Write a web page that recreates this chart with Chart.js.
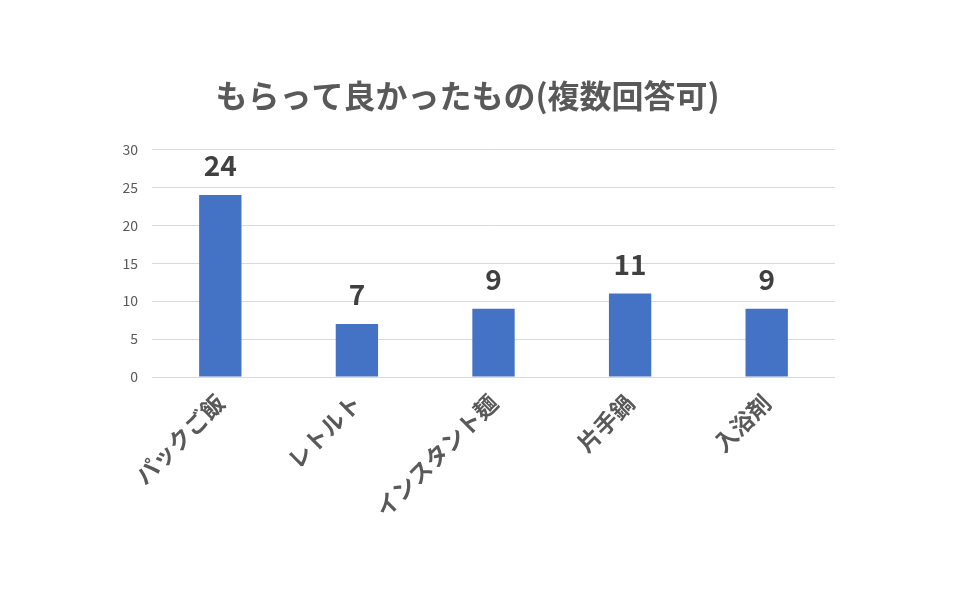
<!DOCTYPE html>
<html>
<head>
<meta charset="utf-8">
<script src="https://cdn.jsdelivr.net/npm/chart.js@4"></script>
<style>
  html, body { margin: 0; padding: 0; background: #fff; }
  #wrap { width: 960px; height: 600px; }
</style>
</head>
<body>
<div id="wrap"><canvas id="chart" width="960" height="600"></canvas></div>
<script>
var categories = ['パックご飯', 'レトルト', 'インスタント麺', '片手鍋', '入浴剤'];
var counts = [24, 7, 9, 11, 9];
var yTicks = [0, 5, 10, 15, 20, 25, 30];

var fontFamily = '"Noto Sans CJK JP", "Noto Sans", sans-serif';

// value labels above each bar
var barLabels = {
    id: 'barLabels',
    afterDatasetsDraw: function(chart) {
        var ctx = chart.ctx;
        var meta = chart.getDatasetMeta(0);
        ctx.save();
        ctx.font = 'bold 28px ' + fontFamily;
        ctx.fillStyle = '#404040';
        ctx.textAlign = 'center';
        ctx.textBaseline = 'alphabetic';
        meta.data.forEach(function(bar, i) {
            ctx.fillText(counts[i], bar.x, bar.y - 19);
        });
        ctx.restore();
    }
};

var ctx = document.getElementById('chart').getContext('2d');
var chart = new Chart(ctx, {
    type: 'bar',
    data: {
        labels: categories,
        datasets: [{
            label: 'もらって良かったもの',
            data: counts,
            backgroundColor: '#4472C4',
            barPercentage: 0.62,
            categoryPercentage: 0.5
        }]
    },
    options: {
        responsive: false,
        animation: false,
        layout: { padding: { top: 20, left: 100, right: 125, bottom: 70 } },
        plugins: {
            legend: { display: false },
            tooltip: { enabled: false },
            title: {
                display: true,
                text: 'もらって良かったもの(複数回答可)',
                color: '#595959',
                font: { family: fontFamily, size: 32, weight: 'bold' },
                padding: { top: 57, bottom: 34 }
            }
        },
        scales: {
            x: {
                grid: { display: false, drawTicks: false },
                border: { display: false },
                ticks: {
                    color: '#595959',
                    font: { family: fontFamily, size: 23, weight: 'bold' },
                    maxRotation: 45,
                    minRotation: 45,
                    padding: 12
                },
                afterFit: function(scale) { scale.height = 153; }
            },
            y: {
                min: 0,
                max: 30,
                afterBuildTicks: function(scale) {
                    scale.ticks = yTicks.map(function(v) { return { value: v }; });
                },
                grid: { color: '#d9d9d9', drawTicks: false, lineWidth: 1 },
                border: { display: false },
                ticks: {
                    color: '#595959',
                    font: { family: fontFamily, size: 14 },
                    padding: 14
                },
                afterFit: function(scale) { scale.width = 52; }
            }
        }
    },
    plugins: [barLabels]
});
</script>
</body>
</html>
